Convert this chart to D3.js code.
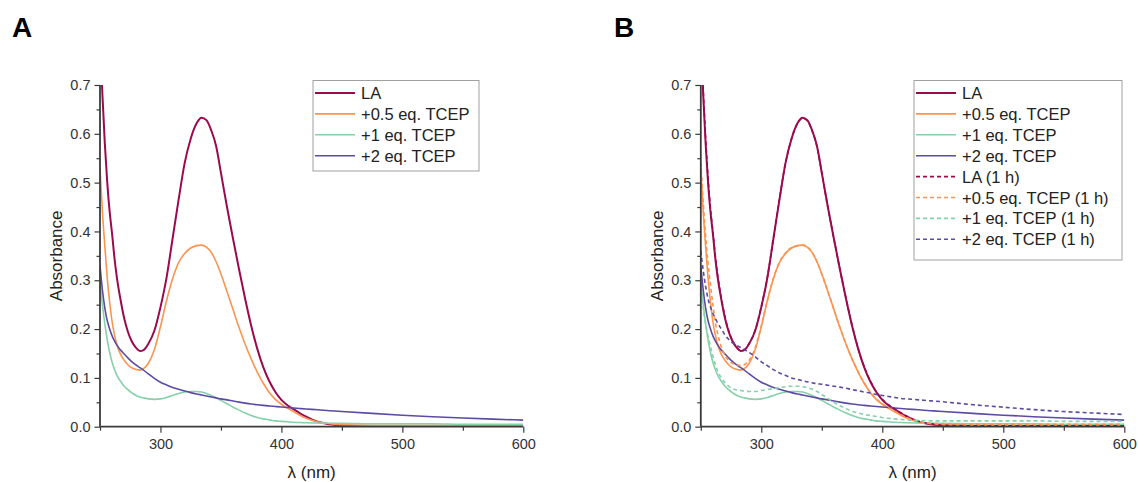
<!DOCTYPE html>
<html>
<head>
<meta charset="utf-8">
<script src="https://cdn.jsdelivr.net/npm/d3@7"></script>
<style>
  body { margin: 0; background: #fff; }
  svg { display: block; font-family: "Liberation Sans", Arial, sans-serif; }
</style>
</head>
<body>
<svg id="chart" width="1138" height="482"></svg>
<script>
// wavelength grid (nm) shared by every spectrum
const wavelength = [250, 252, 254, 256, 258, 260, 262, 264, 267, 270, 273, 276, 280, 283, 286, 290, 295,
  300, 305, 310, 315, 320, 325, 330, 334, 338, 342, 346, 350, 355, 360, 365, 370, 375, 380, 385, 390,
  395, 400, 405, 410, 415, 420, 430, 440, 450, 475, 500, 525, 550, 575, 600];

// absorbance
const la = [0.80, 0.68, 0.58, 0.50, 0.44, 0.395, 0.345, 0.305, 0.26, 0.222, 0.195, 0.176, 0.161, 0.155, 0.157, 0.17, 0.197,
  0.245, 0.305, 0.385, 0.465, 0.54, 0.59, 0.622, 0.633, 0.628, 0.607, 0.575, 0.52, 0.45, 0.385, 0.322, 0.262, 0.207, 0.16, 0.122, 0.093,
  0.071, 0.055, 0.044, 0.036, 0.028, 0.021, 0.01, 0.005, 0.002, 0.001, 0.001, 0.001, 0.001, 0.001, 0.001];
const tcep05 = [0.53, 0.44, 0.37, 0.305, 0.255, 0.215, 0.188, 0.168, 0.148, 0.136, 0.127, 0.121, 0.117, 0.116, 0.119, 0.13, 0.158,
  0.205, 0.258, 0.303, 0.336, 0.355, 0.366, 0.371, 0.372, 0.368, 0.357, 0.338, 0.313, 0.277, 0.24, 0.203, 0.169, 0.139, 0.112, 0.089, 0.07,
  0.056, 0.046, 0.038, 0.031, 0.024, 0.018, 0.01, 0.006, 0.004, 0.003, 0.003, 0.003, 0.003, 0.003, 0.003];
const tcep1 = [0.30, 0.25, 0.21, 0.178, 0.152, 0.132, 0.117, 0.105, 0.093, 0.083, 0.076, 0.07, 0.064, 0.061, 0.059, 0.057, 0.056,
  0.057, 0.06, 0.064, 0.068, 0.071, 0.072, 0.072, 0.071, 0.068, 0.064, 0.059, 0.054, 0.047, 0.04, 0.034, 0.028, 0.023, 0.019, 0.016, 0.014,
  0.012, 0.011, 0.01, 0.009, 0.0085, 0.008, 0.0075, 0.007, 0.007, 0.006, 0.006, 0.006, 0.005, 0.005, 0.005];
const tcep2 = [0.33, 0.28, 0.243, 0.217, 0.2, 0.186, 0.176, 0.167, 0.157, 0.149, 0.141, 0.134, 0.126, 0.121, 0.116, 0.108, 0.099,
  0.091, 0.0855, 0.0805, 0.0765, 0.073, 0.0698, 0.067, 0.065, 0.063, 0.061, 0.059, 0.057, 0.055, 0.0525, 0.0503, 0.0483, 0.0465, 0.045, 0.0437, 0.0425,
  0.0414, 0.0403, 0.0393, 0.0383, 0.0373, 0.0364, 0.0346, 0.0328, 0.0311, 0.0272, 0.0236, 0.0205, 0.0178, 0.0155, 0.0135];

// same samples after 1 h (panel B only)
const la1h = [0.80, 0.69, 0.59, 0.51, 0.447, 0.40, 0.35, 0.31, 0.263, 0.225, 0.197, 0.178, 0.162, 0.156, 0.158, 0.171, 0.198,
  0.246, 0.306, 0.386, 0.466, 0.54, 0.59, 0.622, 0.632, 0.627, 0.606, 0.574, 0.52, 0.45, 0.385, 0.322, 0.263, 0.208, 0.161, 0.123, 0.094,
  0.072, 0.056, 0.045, 0.037, 0.029, 0.022, 0.011, 0.006, 0.003, 0.002, 0.002, 0.002, 0.002, 0.002, 0.002];
const tcep05_1h = [0.54, 0.46, 0.39, 0.335, 0.29, 0.25, 0.215, 0.19, 0.163, 0.146, 0.136, 0.13, 0.127, 0.125, 0.127, 0.136, 0.162,
  0.207, 0.259, 0.304, 0.337, 0.356, 0.367, 0.371, 0.372, 0.368, 0.357, 0.338, 0.313, 0.277, 0.24, 0.203, 0.169, 0.139, 0.113, 0.09, 0.071,
  0.057, 0.047, 0.039, 0.032, 0.025, 0.019, 0.011, 0.007, 0.006, 0.005, 0.005, 0.005, 0.005, 0.005, 0.005];
const tcep1_1h = [0.29, 0.245, 0.21, 0.185, 0.164, 0.145, 0.128, 0.114, 0.1, 0.09, 0.083, 0.078, 0.075, 0.074, 0.073, 0.072, 0.072,
  0.074, 0.076, 0.078, 0.08, 0.082, 0.083, 0.083, 0.082, 0.08, 0.077, 0.072, 0.066, 0.058, 0.05, 0.043, 0.037, 0.032, 0.028, 0.025, 0.023,
  0.021, 0.019, 0.017, 0.016, 0.015, 0.014, 0.013, 0.012, 0.012, 0.012, 0.012, 0.012, 0.011, 0.011, 0.011];
const tcep2_1h = [0.36, 0.32, 0.287, 0.262, 0.245, 0.232, 0.222, 0.212, 0.2, 0.188, 0.179, 0.172, 0.166, 0.162, 0.158, 0.152, 0.143,
  0.133, 0.125, 0.117, 0.11, 0.105, 0.1, 0.097, 0.094, 0.092, 0.09, 0.088, 0.087, 0.085, 0.083, 0.081, 0.079, 0.076, 0.074, 0.071, 0.069,
  0.066, 0.064, 0.062, 0.06, 0.058, 0.057, 0.055, 0.053, 0.051, 0.045, 0.04, 0.035, 0.031, 0.028, 0.025];

const seriesNames = ['LA', '+0.5 eq. TCEP', '+1 eq. TCEP', '+2 eq. TCEP'];
const seriesColors = ['#9b0a4c', '#fb9450', '#86d0aa', '#5b4ba3'];
const xTicks = [300, 400, 500, 600];
const xMinorTicks = [250, 350, 450, 550];
const yTicks = [0.0, 0.1, 0.2, 0.3, 0.4, 0.5, 0.6, 0.7];
const yMinorTicks = [0.05, 0.15, 0.25, 0.35, 0.45, 0.55, 0.65];

const svg = d3.select('#chart');
const axisColor = '#3a3a3a';
const textColor = '#222';

function toPoints(values) {
  return wavelength.map((w, i) => ({ x: w, y: values[i] }));
}

function drawPanel(cfg) {
  const x = d3.scaleLinear().domain([250, 600]).range([cfg.left, cfg.right]);
  const y = d3.scaleLinear().domain([0, 0.7]).range([426.7, 85]);

  const g = svg.append('g');

  // panel letter
  g.append('text')
    .attr('x', cfg.letterX).attr('y', 37)
    .attr('font-size', 28).attr('font-weight', 'bold')
    .attr('fill', '#000')
    .text(cfg.letter);

  // clip region for the spectra
  svg.append('clipPath').attr('id', 'clip' + cfg.letter)
    .append('rect')
    .attr('x', cfg.left).attr('y', 85)
    .attr('width', cfg.right - cfg.left).attr('height', 426.7 - 85);

  const line = d3.line()
    .x(d => x(d.x))
    .y(d => y(d.y))
    .curve(d3.curveMonotoneX);

  const plot = g.append('g').attr('clip-path', `url(#clip${cfg.letter})`);
  cfg.series.forEach(s => {
    plot.append('path')
      .datum(toPoints(s.values))
      .attr('d', line)
      .attr('fill', 'none')
      .attr('stroke', s.color)
      .attr('stroke-width', s.width)
      .attr('stroke-dasharray', s.dashed ? '4,3' : null);
  });

  // axes: minor ticks first, then major with labels
  const xMinor = g.append('g').attr('transform', 'translate(0,426.7)')
    .call(d3.axisBottom(x).tickValues(xMinorTicks).tickSize(4).tickFormat(''));
  const xAxis = g.append('g').attr('transform', 'translate(0,426.7)')
    .call(d3.axisBottom(x).tickValues(xTicks).tickSize(6).tickPadding(6).tickFormat(d3.format('d')));
  const yMinor = g.append('g').attr('transform', `translate(${cfg.left},0)`)
    .call(d3.axisLeft(y).tickValues(yMinorTicks).tickSize(3.5).tickFormat(''));
  const yAxis = g.append('g').attr('transform', `translate(${cfg.left},0)`)
    .call(d3.axisLeft(y).tickValues(yTicks).tickSize(5.5).tickPadding(4).tickFormat(d3.format('.1f')));

  [xMinor, xAxis, yMinor, yAxis].forEach(a => {
    a.select('.domain').attr('stroke', axisColor).attr('stroke-width', 1.8);
    a.selectAll('.tick line').attr('stroke', axisColor).attr('stroke-width', 1.2);
    a.selectAll('.tick text').attr('fill', '#333')
      .attr('font-size', 14.5)
      .attr('font-family', '"Liberation Sans", Arial, sans-serif');
  });
  xMinor.select('.domain').remove();
  yMinor.select('.domain').remove();
  xAxis.select('.domain').attr('d', `M${cfg.left},0H${cfg.right}`);
  yAxis.select('.domain').attr('d', `M0,${y(0)}V${y(0.7)}`);

  // axis titles
  g.append('text')
    .attr('transform', `translate(${cfg.left - 38},${(426.7 + 85) / 2}) rotate(-90)`)
    .attr('text-anchor', 'middle')
    .attr('font-size', 17).attr('fill', textColor)
    .text('Absorbance');
  g.append('text')
    .attr('x', (cfg.left + cfg.right) / 2).attr('y', 478)
    .attr('text-anchor', 'middle')
    .attr('font-size', 17).attr('fill', textColor)
    .text('λ (nm)');

  // legend
  const lg = g.append('g');
  lg.append('rect')
    .attr('x', cfg.legend.x).attr('y', 80.5)
    .attr('width', cfg.legend.w).attr('height', cfg.legend.h)
    .attr('fill', '#fff').attr('stroke', '#a0a0a0').attr('stroke-width', 1);
  cfg.series.forEach((s, i) => {
    const cy = 93 + i * 20.9;
    lg.append('line')
      .attr('x1', cfg.legend.x + 2).attr('x2', cfg.legend.x + 42)
      .attr('y1', cy).attr('y2', cy)
      .attr('stroke', s.color).attr('stroke-width', s.width)
      .attr('stroke-dasharray', s.dashed ? '4,3' : null);
    lg.append('text')
      .attr('x', cfg.legend.x + 48).attr('y', cy + 6)
      .attr('font-size', 16.5).attr('fill', textColor)
      .text(s.name);
  });
}

const solid = [la, tcep05, tcep1, tcep2].map((v, i) => ({
  name: seriesNames[i], values: v, color: seriesColors[i], width: i === 0 ? 2 : 1.6, dashed: false
}));
const dashed = [la1h, tcep05_1h, tcep1_1h, tcep2_1h].map((v, i) => ({
  name: seriesNames[i] + ' (1 h)', values: v, color: seriesColors[i], width: 1.6, dashed: true
}));

drawPanel({
  letter: 'A', letterX: 12, left: 100, right: 523.3,
  series: solid,
  legend: { x: 313, w: 166, h: 90.5 }
});
drawPanel({
  letter: 'B', letterX: 614, left: 700.8, right: 1124.3,
  series: solid.concat(dashed),
  legend: { x: 914, w: 208, h: 179.5 }
});
</script>
</body>
</html>
